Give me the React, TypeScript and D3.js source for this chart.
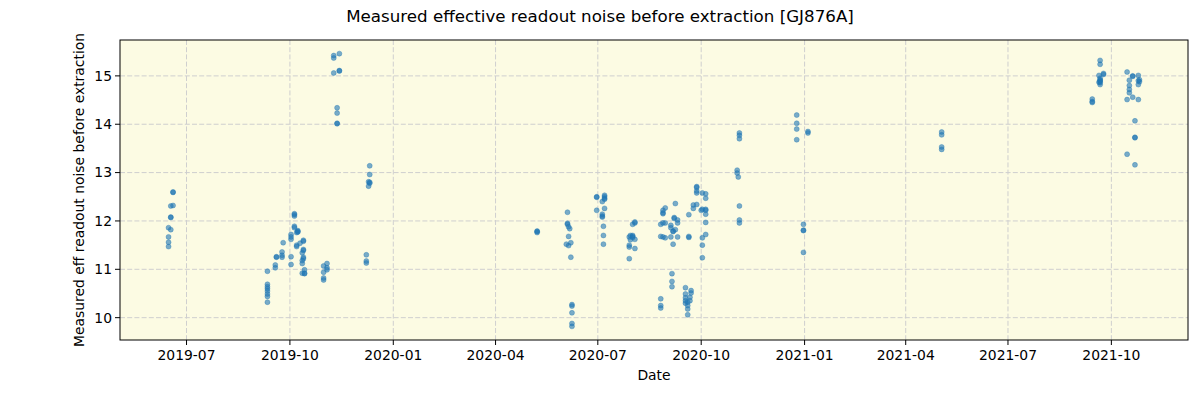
import React from "react";
import * as d3 from "d3";

const chartTitle = "Measured effective readout noise before extraction [GJ876A]";
const xLabel = "Date";
const yLabel = "Measured eff readout noise before extraction";
const yTicks = [10, 11, 12, 13, 14, 15];

// [date, noise]
const season2019: [string, number][] = [
  ["2019-06-19", 12.6], ["2019-06-19", 12.59], ["2019-06-17", 12.31], ["2019-06-19", 12.32],
  ["2019-06-17", 12.08], ["2019-06-17", 12.07], ["2019-06-15", 11.86], ["2019-06-17", 11.82],
  ["2019-06-15", 11.67], ["2019-06-15", 11.56], ["2019-06-15", 11.47],
  ["2019-09-11", 10.96], ["2019-09-11", 10.69], ["2019-09-11", 10.64], ["2019-09-11", 10.6],
  ["2019-09-11", 10.55], ["2019-09-11", 10.49], ["2019-09-11", 10.44], ["2019-09-11", 10.32],
  ["2019-09-18", 11.09], ["2019-09-18", 11.03], ["2019-09-19", 11.25], ["2019-09-19", 11.26],
  ["2019-09-24", 11.25], ["2019-09-24", 11.29], ["2019-09-24", 11.36], ["2019-09-25", 11.55],
  ["2019-10-02", 11.26], ["2019-10-02", 11.1], ["2019-10-02", 11.62], ["2019-10-02", 11.72], ["2019-10-02", 11.67],
  ["2019-10-05", 12.15], ["2019-10-05", 12.1], ["2019-10-05", 12.13], ["2019-10-05", 11.89], ["2019-10-05", 11.86],
  ["2019-10-08", 11.77], ["2019-10-08", 11.78], ["2019-10-07", 11.76], ["2019-10-08", 11.8],
  ["2019-10-07", 11.5], ["2019-10-07", 11.47], ["2019-10-10", 11.54],
  ["2019-10-13", 11.58], ["2019-10-13", 11.6], ["2019-10-13", 11.39], ["2019-10-13", 11.41],
  ["2019-10-13", 11.25], ["2019-10-13", 11.22], ["2019-10-12", 11.34], ["2019-10-12", 11.18],
  ["2019-10-12", 11.12], ["2019-10-12", 10.92], ["2019-10-14", 10.91], ["2019-10-14", 10.99], ["2019-10-14", 10.92],
  ["2019-10-31", 11.07], ["2019-10-31", 10.94], ["2019-10-31", 10.82], ["2019-10-31", 10.78],
  ["2019-11-03", 11.12], ["2019-11-03", 11.03], ["2019-11-03", 10.99],
  ["2019-11-09", 15.42], ["2019-11-09", 15.37], ["2019-11-09", 15.06],
  ["2019-11-12", 14.34], ["2019-11-12", 14.23], ["2019-11-12", 14.01], ["2019-11-12", 14.02],
  ["2019-11-14", 15.46], ["2019-11-14", 15.1], ["2019-11-14", 15.11],
  ["2019-12-08", 11.3], ["2019-12-08", 11.17], ["2019-12-08", 11.13],
  ["2019-12-10", 12.81], ["2019-12-10", 12.72],
  ["2019-12-11", 13.14], ["2019-12-11", 12.96], ["2019-12-11", 12.78], ["2019-12-11", 12.8],
];

const season2020: [string, number][] = [
  ["2020-05-08", 11.79], ["2020-05-08", 11.76], ["2020-05-08", 11.78],
  ["2020-06-03", 11.52], ["2020-06-04", 12.18], ["2020-06-04", 11.93], ["2020-06-04", 11.95],
  ["2020-06-05", 11.68], ["2020-06-05", 11.49], ["2020-06-05", 11.88], ["2020-06-06", 11.84],
  ["2020-06-07", 11.55], ["2020-06-07", 11.25],
  ["2020-06-08", 10.27], ["2020-06-08", 10.24], ["2020-06-08", 10.1], ["2020-06-08", 9.88], ["2020-06-08", 9.82],
  ["2020-06-30", 12.5], ["2020-06-30", 12.22], ["2020-06-30", 12.49],
  ["2020-07-05", 12.08], ["2020-07-05", 12.1], ["2020-07-05", 12.4], ["2020-07-05", 12.14],
  ["2020-07-06", 11.89], ["2020-07-06", 11.7], ["2020-07-06", 11.52],
  ["2020-07-07", 12.53], ["2020-07-07", 12.47], ["2020-07-07", 12.26], ["2020-07-07", 12.5], ["2020-07-07", 12.45],
  ["2020-07-29", 11.67], ["2020-07-29", 11.46], ["2020-07-29", 11.22], ["2020-07-29", 11.5],
  ["2020-07-30", 11.7], ["2020-07-30", 11.61],
  ["2020-08-01", 11.93], ["2020-08-01", 11.7], ["2020-08-01", 11.68], ["2020-08-01", 11.66],
  ["2020-08-03", 11.96], ["2020-08-03", 11.98], ["2020-08-03", 11.43], ["2020-08-03", 11.62],
  ["2020-08-26", 10.39], ["2020-08-26", 10.25], ["2020-08-26", 10.2], ["2020-08-26", 11.93], ["2020-08-26", 11.68],
  ["2020-08-28", 12.17], ["2020-08-28", 12.22], ["2020-08-28", 11.96], ["2020-08-28", 11.67], ["2020-08-28", 12.15],
  ["2020-08-30", 12.27], ["2020-08-30", 11.96], ["2020-08-30", 11.65],
  ["2020-09-04", 11.91], ["2020-09-04", 11.86], ["2020-09-04", 11.67],
  ["2020-09-05", 10.91], ["2020-09-05", 10.75], ["2020-09-05", 10.64],
  ["2020-09-06", 11.79], ["2020-09-06", 11.52], ["2020-09-06", 11.78],
  ["2020-09-07", 12.07], ["2020-09-08", 11.82], ["2020-09-07", 12.05], ["2020-09-08", 12.36],
  ["2020-09-10", 12.02], ["2020-09-10", 11.96], ["2020-09-10", 11.67],
  ["2020-09-17", 10.62], ["2020-09-17", 10.49], ["2020-09-17", 10.41], ["2020-09-17", 10.35], ["2020-09-17", 10.3],
  ["2020-09-19", 10.32], ["2020-09-19", 10.25], ["2020-09-19", 10.18], ["2020-09-19", 10.06],
  ["2020-09-20", 11.68], ["2020-09-20", 11.66], ["2020-09-20", 12.13],
  ["2020-09-21", 10.42], ["2020-09-21", 10.35], ["2020-09-22", 10.56], ["2020-09-22", 10.51],
  ["2020-09-24", 12.26], ["2020-09-24", 12.33],
  ["2020-09-27", 12.69], ["2020-09-27", 12.62], ["2020-09-27", 12.58], ["2020-09-27", 12.34], ["2020-09-27", 12.71],
  ["2020-10-01", 12.22], ["2020-10-02", 12.24], ["2020-10-02", 12.58], ["2020-10-02", 11.65],
  ["2020-10-02", 11.5], ["2020-10-02", 11.24],
  ["2020-10-05", 12.22], ["2020-10-05", 12.24], ["2020-10-05", 12.56], ["2020-10-05", 12.47],
  ["2020-10-05", 12.14], ["2020-10-05", 11.97], ["2020-10-05", 11.72],
  ["2020-11-02", 13.05], ["2020-11-02", 12.99], ["2020-11-03", 12.91],
  ["2020-11-04", 13.82], ["2020-11-04", 13.77], ["2020-11-04", 13.7], ["2020-11-04", 12.31],
  ["2020-11-04", 12.02], ["2020-11-04", 11.96],
  ["2020-12-25", 14.19], ["2020-12-25", 14.02], ["2020-12-25", 13.9], ["2020-12-25", 13.68],
  ["2020-12-31", 11.93], ["2020-12-31", 11.81], ["2020-12-31", 11.35], ["2020-12-31", 11.8],
];

const season2021: [string, number][] = [
  ["2021-01-04", 13.85], ["2021-01-04", 13.82],
  ["2021-05-03", 13.84], ["2021-05-03", 13.78], ["2021-05-03", 13.53], ["2021-05-03", 13.48],
  ["2021-09-14", 14.52], ["2021-09-14", 14.45], ["2021-09-14", 14.47],
  ["2021-09-20", 15.01], ["2021-09-20", 14.87],
  ["2021-09-21", 15.32], ["2021-09-21", 15.24], ["2021-09-21", 14.92], ["2021-09-21", 14.86],
  ["2021-09-21", 14.82], ["2021-09-21", 14.89], ["2021-09-21", 14.9], ["2021-09-21", 14.95],
  ["2021-09-24", 15.03], ["2021-09-24", 15.05],
  ["2021-10-15", 15.08], ["2021-10-15", 14.51], ["2021-10-15", 13.38],
  ["2021-10-17", 14.91], ["2021-10-17", 14.8], ["2021-10-17", 14.72], ["2021-10-17", 14.65],
  ["2021-10-20", 14.99], ["2021-10-20", 15.0], ["2021-10-20", 14.56],
  ["2021-10-22", 14.07], ["2021-10-22", 13.73], ["2021-10-22", 13.72], ["2021-10-22", 13.16],
  ["2021-10-25", 15.01], ["2021-10-25", 14.82], ["2021-10-25", 14.51], ["2021-10-25", 14.9],
  ["2021-10-26", 14.92], ["2021-10-26", 14.88],
];

const W = 1200, H = 400;
const M = { left: 120, right: 1188, top: 40, bottom: 340 };
const FONT = "'DejaVu Sans', sans-serif";

export default function App() {
  const parse = d3.utcParse("%Y-%m-%d");
  const pts = [...season2019, ...season2020, ...season2021].map(([d, v]) => ({ date: parse(d) as Date, v }));

  const [xmin, xmax] = d3.extent(pts, (p) => p.date.getTime()) as [number, number];
  const xpad = (xmax - xmin) * 0.05;
  const x = d3.scaleUtc().domain([new Date(xmin - xpad), new Date(xmax + xpad)]).range([M.left, M.right]);
  const [ymin, ymax] = d3.extent(pts, (p) => p.v) as [number, number];
  const ypad = (ymax - ymin) * 0.05;
  const y = d3.scaleLinear().domain([ymin - ypad, ymax + ypad]).range([M.bottom, M.top]);

  const xTicks = x.ticks(d3.utcMonth.every(3) as any);
  const fmt = d3.utcFormat("%Y-%m");

  return (
    <svg width={W} height={H} style={{ position: "absolute", left: 0, top: 0 }} fontFamily={FONT}>
      <rect x={0} y={0} width={W} height={H} fill="#ffffff" />
      <rect x={M.left} y={M.top} width={M.right - M.left} height={M.bottom - M.top} fill="#fcfbe3" />
      {xTicks.map((t, i) => (
        <line key={"gx" + i} x1={x(t)} x2={x(t)} y1={M.top} y2={M.bottom} stroke="#cfcfcf" strokeWidth={1} strokeDasharray="5,2.2" />
      ))}
      {yTicks.map((t, i) => (
        <line key={"gy" + i} x1={M.left} x2={M.right} y1={y(t)} y2={y(t)} stroke="#cfcfcf" strokeWidth={1} strokeDasharray="5,2.2" />
      ))}
      <g>
        {pts.map((p, i) => (
          <circle key={i} cx={x(p.date)} cy={y(p.v)} r={2.5} fill="#1f77b4" fillOpacity={0.6} stroke="#1f77b4" strokeOpacity={0.6} strokeWidth={0.6} />
        ))}
      </g>
      <rect x={M.left} y={M.top} width={M.right - M.left} height={M.bottom - M.top} fill="none" stroke="#000" strokeWidth={1} />
      {xTicks.map((t, i) => (
        <g key={"tx" + i}>
          <line x1={x(t)} x2={x(t)} y1={M.bottom} y2={M.bottom + 5} stroke="#000" strokeWidth={1} />
          <text x={x(t)} y={M.bottom + 20} textAnchor="middle" fontSize={13.9} fill="#000">{fmt(t)}</text>
        </g>
      ))}
      {yTicks.map((t, i) => (
        <g key={"ty" + i}>
          <line x1={M.left - 5} x2={M.left} y1={y(t)} y2={y(t)} stroke="#000" strokeWidth={1} />
          <text x={M.left - 8} y={y(t)} dy="0.35em" textAnchor="end" fontSize={13.9} fill="#000">{t}</text>
        </g>
      ))}
      <text x={(M.left + M.right) / 2} y={380} textAnchor="middle" fontSize={13.9} fill="#000">{xLabel}</text>
      <text transform={`translate(84,${(M.top + M.bottom) / 2}) rotate(-90)`} textAnchor="middle" fontSize={13.9} fill="#000">{yLabel}</text>
      <text x={600} y={22} textAnchor="middle" fontSize={16.7} fill="#000">{chartTitle}</text>
    </svg>
  );
}
